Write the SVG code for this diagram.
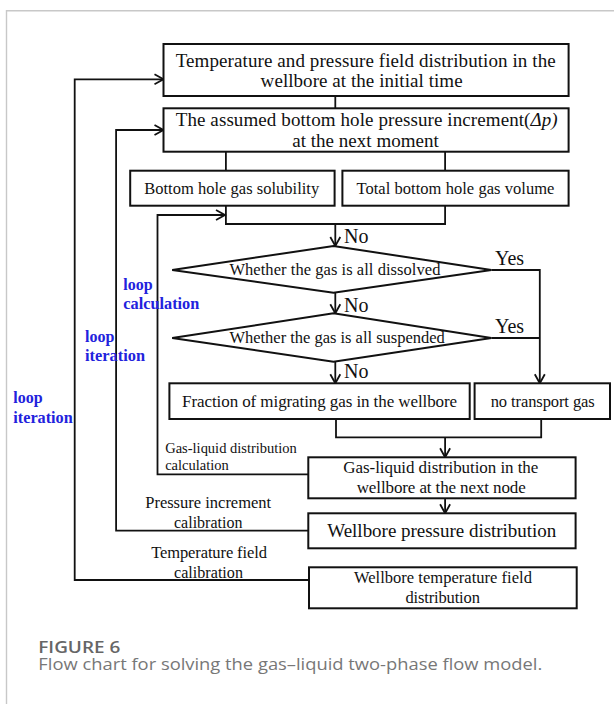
<svg xmlns="http://www.w3.org/2000/svg" width="614" height="704" viewBox="0 0 614 704">
<style>
.box{fill:#fff;stroke:#111;stroke-width:2}
.ln{fill:none;stroke:#111;stroke-width:1.8}
.arr{fill:none;stroke:#111;stroke-width:1.8;marker-end:url(#ah)}
.t{font-family:"Liberation Serif","Times New Roman",serif;fill:#111}
.b{font-family:"Liberation Serif","Times New Roman",serif;font-weight:bold;fill:#2222dd;font-size:16px}
.cap1{font-family:"Open Sans","Noto Sans",sans-serif;font-weight:600;fill:#666;font-size:17px}
.cap2{font-family:"Open Sans","Noto Sans",sans-serif;fill:#777;font-size:15.5px}
</style>
<defs>
<marker id="ah" markerUnits="userSpaceOnUse" markerWidth="14" markerHeight="14" viewBox="-12 -7 14 14" refX="0" refY="0" orient="auto">
<path d="M-9,-5 L0,0 L-9,5" fill="none" stroke="#111" stroke-width="1.8"/>
</marker>
</defs>
<rect width="614" height="704" fill="#fff"/>
<path d="M6.5,704 V10.7 H614" fill="none" stroke="#c8c8c8" stroke-width="1.4"/>

<g id="connectors">
<line class="ln" x1="335.3" y1="96" x2="335.3" y2="108.3"/>
<line class="ln" x1="225.9" y1="151.7" x2="225.9" y2="170.7"/>
<line class="ln" x1="445.1" y1="151.7" x2="445.1" y2="170.7"/>
<path class="ln" d="M225.9,205.7 V224 H445.1 V205.7"/>
<line class="arr" x1="335.3" y1="224" x2="335.3" y2="246"/>
<line class="arr" x1="335.3" y1="292.7" x2="335.3" y2="313.3"/>
<line class="arr" x1="335.3" y1="361.7" x2="335.3" y2="383.3"/>
<path class="arr" d="M491.4,270 H539.8 V383.3"/>
<line class="ln" x1="491.4" y1="338" x2="539.8" y2="338"/>
<path class="ln" d="M336,419 V437.3 H541.2 V419"/>
<line class="arr" x1="445.1" y1="437.3" x2="445.1" y2="457.3"/>
<line class="arr" x1="445.1" y1="498.3" x2="445.1" y2="513.3"/>
<path class="arr" d="M308.3,474.3 H157.5 V215 H225"/>
<path class="arr" d="M308.3,530.7 H116.1 V130 H163.5"/>
<path class="arr" d="M309,580 H74.7 V79.3 H163.5"/>
<text class="t" x="344" y="243" font-size="20">No</text>
<text class="t" x="344" y="311.7" font-size="20">No</text>
<text class="t" x="344" y="378.3" font-size="20">No</text>
<text class="t" x="495" y="265" font-size="20">Yes</text>
<text class="t" x="495" y="333.3" font-size="20">Yes</text>
<text class="t" x="165.2" y="453" font-size="14.5" textLength="131.6" lengthAdjust="spacing">Gas-liquid distribution</text>
<text class="t" x="165.2" y="470" font-size="14.5">calculation</text>
<text class="t" x="145.2" y="508.3" font-size="16.5" textLength="126" lengthAdjust="spacing">Pressure increment</text>
<text class="t" x="174" y="528" font-size="16.5" textLength="68.4" lengthAdjust="spacingAndGlyphs">calibration</text>
<text class="t" x="151.2" y="558.3" font-size="16.5" textLength="115.7" lengthAdjust="spacing">Temperature field</text>
<text class="t" x="174" y="577.7" font-size="16.5" textLength="69" lengthAdjust="spacingAndGlyphs">calibration</text>
<text class="b" x="123.3" y="290">loop</text>
<text class="b" x="123.3" y="309.3" textLength="76" lengthAdjust="spacingAndGlyphs">calculation</text>
<text class="b" x="85" y="341.7">loop</text>
<text class="b" x="85" y="360.7" textLength="60" lengthAdjust="spacingAndGlyphs">iteration</text>
<text class="b" x="13.3" y="403.3">loop</text>
<text class="b" x="13.3" y="423.3" textLength="59.4" lengthAdjust="spacingAndGlyphs">iteration</text>
</g>

<g id="n1">
<rect class="box" x="163.5" y="44" width="405.1" height="52"/>
<text class="t" x="175.7" y="66.7" font-size="19" textLength="380" lengthAdjust="spacing">Temperature and pressure field distribution in the</text>
<text class="t" x="260.6" y="87.3" font-size="19" textLength="202" lengthAdjust="spacing">wellbore at the initial time</text>
</g>
<g id="n2">
<rect class="box" x="163.5" y="108.3" width="405.1" height="43.4"/>
<text class="t" x="175.7" y="126" font-size="19" textLength="382" lengthAdjust="spacing">The assumed bottom hole pressure increment(<tspan font-style="italic">Δp)</tspan></text>
<text class="t" x="292.2" y="147" font-size="19" textLength="146.6" lengthAdjust="spacing">at the next moment</text>
</g>
<g id="n3">
<rect class="box" x="130.2" y="170.7" width="204.4" height="35"/>
<text class="t" x="144.2" y="194" font-size="16.5" textLength="175" lengthAdjust="spacing">Bottom hole gas solubility</text>
</g>
<g id="n4">
<rect class="box" x="342.4" y="170.7" width="226.2" height="35"/>
<text class="t" x="356.4" y="194" font-size="16.5" textLength="198" lengthAdjust="spacing">Total bottom hole gas volume</text>
</g>
<g id="d1">
<polygon class="box" points="172.2,270 333.5,246 491.4,270 333.5,292.7"/>
<text class="t" x="229.4" y="275" font-size="16.5" textLength="211" lengthAdjust="spacing">Whether the gas is all dissolved</text>
</g>
<g id="d2">
<polygon class="box" points="172.2,338 333.5,313.3 491.4,338 333.5,361.7"/>
<text class="t" x="229.4" y="343" font-size="16.5" textLength="215.4" lengthAdjust="spacing">Whether the gas is all suspended</text>
</g>
<g id="n5">
<rect class="box" x="169.4" y="383.3" width="300.3" height="35.7"/>
<text class="t" x="182.1" y="406.7" font-size="17" textLength="275" lengthAdjust="spacing">Fraction of migrating gas in the wellbore</text>
</g>
<g id="n6">
<rect class="box" x="474.6" y="383.3" width="135.4" height="35.7"/>
<text class="t" x="490.7" y="406.7" font-size="16.5" textLength="104" lengthAdjust="spacing">no transport gas</text>
</g>
<g id="n7">
<rect class="box" x="308.3" y="457.3" width="267.3" height="41"/>
<text class="t" x="343.3" y="473.3" font-size="17" textLength="195" lengthAdjust="spacing">Gas-liquid distribution in the</text>
<text class="t" x="356.7" y="493.3" font-size="17" textLength="169" lengthAdjust="spacing">wellbore at the next node</text>
</g>
<g id="n8">
<rect class="box" x="308.3" y="513.3" width="267.3" height="35"/>
<text class="t" x="327.3" y="537.3" font-size="19" textLength="229" lengthAdjust="spacing">Wellbore pressure distribution</text>
</g>
<g id="n9">
<rect class="box" x="309" y="567.3" width="267.7" height="41"/>
<text class="t" x="353.9" y="583.3" font-size="16.5" textLength="178" lengthAdjust="spacing">Wellbore temperature field</text>
<text class="t" x="405.5" y="603.3" font-size="16.5" textLength="74.4" lengthAdjust="spacing">distribution</text>
</g>

<g id="caption">
<text class="cap1" x="38.3" y="652.7" textLength="82" lengthAdjust="spacingAndGlyphs">FIGURE 6</text>
<text class="cap2" x="38.3" y="670" textLength="504" lengthAdjust="spacingAndGlyphs">Flow chart for solving the gas–liquid two-phase flow model.</text>
</g>
</svg>
